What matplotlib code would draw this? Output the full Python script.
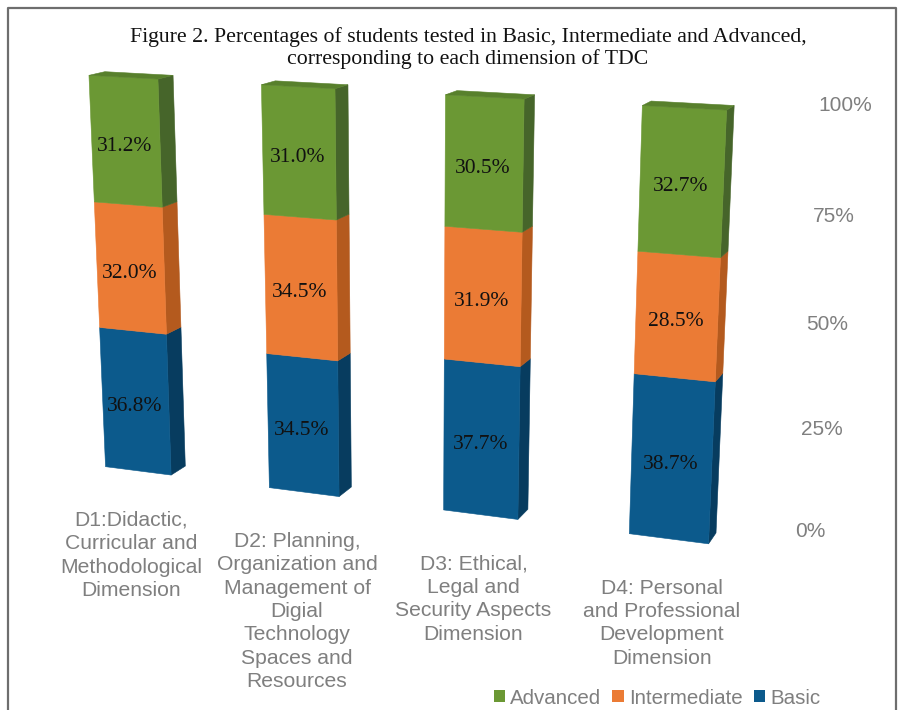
import numpy as np
import matplotlib
matplotlib.use("Agg")
import matplotlib.pyplot as plt
from matplotlib.patches import Polygon, Patch
from matplotlib.lines import Line2D

# ---------------- data ----------------
categories = [
    "D1:Didactic,\nCurricular and\nMethodological\nDimension",
    "D2: Planning,\nOrganization and\nManagement of\nDigial\nTechnology\nSpaces and\nResources",
    "D3: Ethical,\nLegal and\nSecurity Aspects\nDimension",
    "D4: Personal\nand Professional\nDevelopment\nDimension",
]
series_names = ["Basic", "Intermediate", "Advanced"]
basic = [36.8, 34.5, 37.7, 38.7]
intermediate = [32.0, 34.5, 31.9, 28.5]
advanced = [31.2, 31.0, 30.5, 32.7]
tick_values = [0, 25, 50, 75, 100]
tick_labels = ["0%", "25%", "50%", "75%", "100%"]
title = ("Figure 2. Percentages of students tested in Basic, Intermediate and Advanced,\n"
         "corresponding to each dimension of TDC")

# ---------------- styling ----------------
front_col = {"Basic": "#0C5A8C", "Intermediate": "#EB7B35", "Advanced": "#6B9834"}
side_col = {"Basic": "#073C5F", "Intermediate": "#B45A1E", "Advanced": "#46652A"}
top_col = {"Basic": "#0A4C76", "Intermediate": "#D56B2A", "Advanced": "#58802C"}
gray = "#7F7F7F"

# perspective camera (yaw, pitch, roll, position, focal length) and box geometry
YAW, PITCH, ROLL = -0.3484902, -0.2646099, -0.005372326
CAM = np.array([248.1764, 161.1915, -424.5106])
FOCAL = 1988.273
U0, V0 = 451.0, 355.0
BAR_W, BAR_STEP, BAR_D = 18.80836, 46.13454, 7.719761
AXIS_X, AXIS_Z = 174.3, 16.0

cy_, sy_ = np.cos(YAW), np.sin(YAW)
cp_, sp_ = np.cos(PITCH), np.sin(PITCH)
cr_, sr_ = np.cos(ROLL), np.sin(ROLL)
R = (np.array([[cr_, -sr_, 0], [sr_, cr_, 0], [0, 0, 1]])
     @ np.array([[1, 0, 0], [0, cp_, -sp_], [0, sp_, cp_]])
     @ np.array([[cy_, 0, -sy_], [0, 1, 0], [sy_, 0, cy_]]))


def proj(x, y, z):
    q = R @ (np.array([x, y, z], float) - CAM)
    return (U0 + FOCAL * q[0] / q[2], V0 - FOCAL * q[1] / q[2])


fig = plt.figure(figsize=(9.02, 7.10), dpi=100)
ax = fig.add_axes([0, 0, 1, 1])
ax.set_xlim(0, 902)
ax.set_ylim(710, 0)
ax.axis("off")

data = {"Basic": basic, "Intermediate": intermediate, "Advanced": advanced}

for i in range(len(categories)):
    total = sum(data[s][i] for s in series_names)
    x0 = i * BAR_STEP
    x1 = x0 + BAR_W
    bottom = 0.0
    for k, s in enumerate(series_names):
        v = data[s][i] / total * 100
        y0, y1 = bottom, bottom + v
        # side face
        side = [proj(x1, y0, 0), proj(x1, y0, BAR_D), proj(x1, y1, BAR_D), proj(x1, y1, 0)]
        ax.add_patch(Polygon(side, closed=True, facecolor=side_col[s],
                             edgecolor=side_col[s], lw=0.4, zorder=2))
        # front face
        front = [proj(x0, y0, 0), proj(x1, y0, 0), proj(x1, y1, 0), proj(x0, y1, 0)]
        ax.add_patch(Polygon(front, closed=True, facecolor=front_col[s],
                             edgecolor=front_col[s], lw=0.4, zorder=3))
        if k == len(series_names) - 1:
            top = [proj(x0, y1, 0), proj(x1, y1, 0), proj(x1, y1, BAR_D), proj(x0, y1, BAR_D)]
            ax.add_patch(Polygon(top, closed=True, facecolor=top_col[s],
                                 edgecolor=top_col[s], lw=0.4, zorder=3))
        lx, ly = proj(x0 + BAR_W / 2, (y0 + y1) / 2, 0)
        ax.text(lx - 1, ly + 5, f"{data[s][i]:.1f}%", ha="center", va="center",
                fontsize=15.5, family="Liberation Serif", color="#111111", zorder=5)
        bottom = y1
    # category label
    bx, by = proj(x0 + BAR_W / 2, 0, 0)
    ax.text(bx - 7, by + 40, categories[i], ha="center", va="top", fontsize=15.2,
            family="Liberation Sans", color=gray, linespacing=1.29, zorder=5)

# value axis labels
for v, t in zip(tick_values, tick_labels):
    tx, ty = proj(AXIS_X, v, AXIS_Z)
    ax.text(tx, ty + 1, t, ha="left", va="center", fontsize=15,
            family="Liberation Sans", color=gray)

# title
ax.text(468, 48, title, ha="center", va="center", fontsize=15.7,
        family="Liberation Serif", color="#111111", linespacing=1.08)

# legend
handles = [Patch(facecolor=front_col[s], edgecolor="none") for s in reversed(series_names)]
fig.legend(handles, list(reversed(series_names)), loc="center", ncol=3,
           bbox_to_anchor=(657 / 902, 1 - 698 / 710), frameon=False,
           handlelength=0.55, handleheight=0.55, handletextpad=0.25, columnspacing=0.55,
           prop={"family": "Liberation Sans", "size": 14.8}, labelcolor=gray)

# frame around the figure
ax.add_line(Line2D([8, 8, 896, 896], [712, 8, 8, 712], color="#6E6E6E", lw=1.6))

fig.savefig("out.png", dpi=100)
